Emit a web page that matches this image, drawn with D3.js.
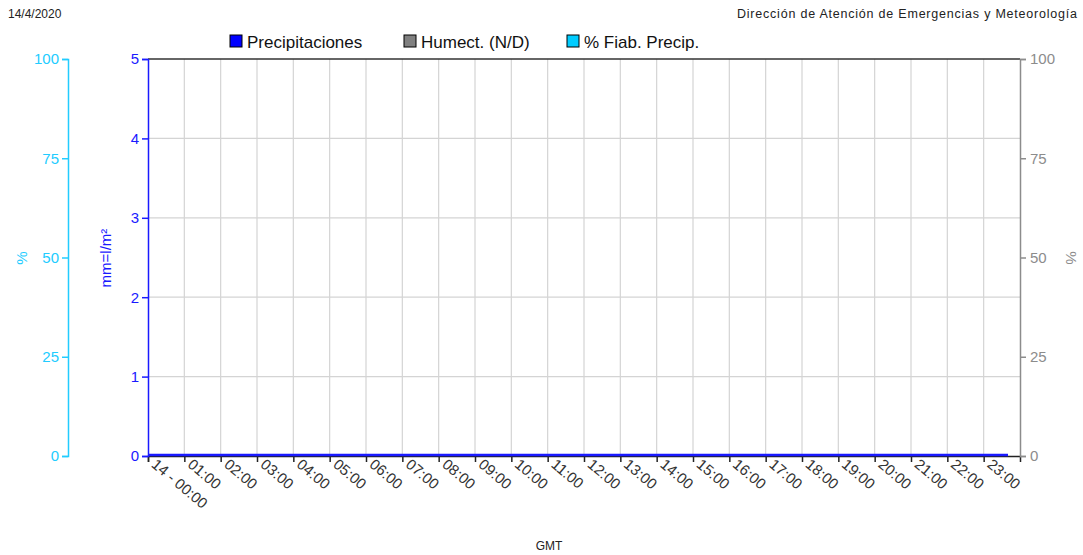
<!DOCTYPE html>
<html><head><meta charset="utf-8">
<script src="https://cdn.jsdelivr.net/npm/d3@7/dist/d3.min.js"></script>
<style>body{margin:0;background:#fff;} text{font-family:"Liberation Sans",Arial,sans-serif;}</style>
</head><body>
<svg id="c" width="1083" height="555"></svg>
<script>
const hourLabels = ["14 - 00:00","01:00","02:00","03:00","04:00","05:00","06:00","07:00","08:00","09:00","10:00","11:00","12:00","13:00","14:00","15:00","16:00","17:00","18:00","19:00","20:00","21:00","22:00","23:00"];
const precipTimes = [0,1,2,3,4,5,6,7,8,9,10,11,12,13,14,15,16,17,18,19,20,21,22,23,23.67];
const precipValues = [0,0,0,0,0,0,0,0,0,0,0,0,0,0,0,0,0,0,0,0,0,0,0,0,0];
const mmTicks = [0,1,2,3,4,5];
const pctTicks = [0,25,50,75,100];
const legendItems = [{name:"Precipitaciones",color:"#0000ff"},{name:"Humect. (N/D)",color:"#808080"},{name:"% Fiab. Precip.",color:"#00ccff"}];

const svg = d3.select("#c");
const L=148,R=1020,T=59,B=456;
const x = d3.scaleLinear().domain([0,24]).range([L,R]);
const yMm = d3.scaleLinear().domain([0,5]).range([B,T]);
const yPct = d3.scaleLinear().domain([0,100]).range([B,T]);
const blue="#1a1aff", cyan="#22ccff", grey="#8c8c8c";

// grid
svg.append("g").selectAll("line").data(d3.range(1,24)).join("line")
  .attr("x1",d=>x(d)).attr("x2",d=>x(d)).attr("y1",T).attr("y2",B)
  .attr("stroke","#d4d4d4").attr("stroke-width",1.2);
svg.append("g").selectAll("line").data(mmTicks.slice(1,5)).join("line")
  .attr("x1",L).attr("x2",R).attr("y1",d=>yMm(d)).attr("y2",d=>yMm(d))
  .attr("stroke","#d4d4d4").attr("stroke-width",1.2);
// top border
svg.append("line").attr("x1",L).attr("x2",R).attr("y1",T).attr("y2",T).attr("stroke","#333").attr("stroke-width",1.5);

// x axis
const xAxis = svg.append("g").attr("transform",`translate(0,${B})`)
  .call(d3.axisBottom(x).tickValues(d3.range(0,24)).tickSize(6).tickFormat(d=>hourLabels[d]));
xAxis.select(".domain").attr("stroke","#222").attr("stroke-width",1.5);
xAxis.selectAll(".tick line").attr("stroke","#222").attr("stroke-width",1.5);
xAxis.selectAll(".tick text").attr("fill","#333").style("font-size","15px")
  .attr("text-anchor","start").attr("dy",0).attr("y",0)
  .attr("transform","translate(2,10) rotate(40)");

// blue left axis
const aMm = svg.append("g").attr("transform",`translate(${L},0)`)
  .call(d3.axisLeft(yMm).tickValues(mmTicks).tickSize(6).tickFormat(d3.format("d")));
aMm.select(".domain").attr("stroke",blue).attr("stroke-width",1.5);
aMm.selectAll(".tick line").attr("stroke",blue).attr("stroke-width",1.5);
aMm.selectAll(".tick text").attr("fill",blue).style("font-size","15px").attr("x",-9);

// cyan axis
const aC = svg.append("g").attr("transform",`translate(68,0)`)
  .call(d3.axisLeft(yPct).tickValues(pctTicks).tickSize(6));
aC.select(".domain").attr("stroke",cyan).attr("stroke-width",1.5);
aC.selectAll(".tick line").attr("stroke",cyan).attr("stroke-width",1.5);
aC.selectAll(".tick text").attr("fill",cyan).style("font-size","15px").attr("x",-9);

// grey right axis
const aG = svg.append("g").attr("transform",`translate(${R},0)`)
  .call(d3.axisRight(yPct).tickValues(pctTicks).tickSize(6));
aG.select(".domain").attr("stroke",grey).attr("stroke-width",1.5);
aG.selectAll(".tick line").attr("stroke",grey).attr("stroke-width",1.5);
aG.selectAll(".tick text").attr("fill",grey).style("font-size","15px").attr("x",10);

// precip line
svg.append("path").datum(precipTimes.map((t,i)=>[t,precipValues[i]]))
  .attr("d",d3.line().x(d=>x(d[0])).y(d=>yMm(d[1])-1))
  .attr("fill","none").attr("stroke",blue).attr("stroke-width",2.5);

// axis titles
svg.append("text").attr("transform","translate(27,258) rotate(-90)").attr("text-anchor","middle")
  .attr("fill",cyan).style("font-size","15px").text("%");
svg.append("text").attr("transform","translate(111,258) rotate(-90)").attr("text-anchor","middle")
  .attr("fill",blue).style("font-size","15px").text("mm=l/m²");
svg.append("text").attr("transform","translate(1066,258) rotate(90)").attr("text-anchor","middle")
  .attr("fill",grey).style("font-size","15px").text("%");
svg.append("text").attr("x",549).attr("y",550).attr("text-anchor","middle")
  .attr("fill","#222").style("font-size","12px").text("GMT");

// header
svg.append("text").attr("x",8).attr("y",18).attr("fill","#222").style("font-size","12px").text("14/4/2020");
svg.append("text").attr("x",737).attr("y",18).attr("fill","#222").style("font-size","12.5px")
  .attr("textLength",340).attr("lengthAdjust","spacing")
  .text("Dirección de Atención de Emergencias y Meteorología");

// legend
const lx=[230,404,567];
const lg = svg.append("g").selectAll("g").data(legendItems).join("g")
  .attr("transform",(d,i)=>`translate(${lx[i]},35)`);
lg.append("rect").attr("width",12).attr("height",12).attr("fill",d=>d.color).attr("stroke","#000").attr("stroke-width",1);
lg.append("text").attr("x",17).attr("y",13).attr("fill","#111").style("font-size","17px").text(d=>d.name);
</script>
</body></html>
